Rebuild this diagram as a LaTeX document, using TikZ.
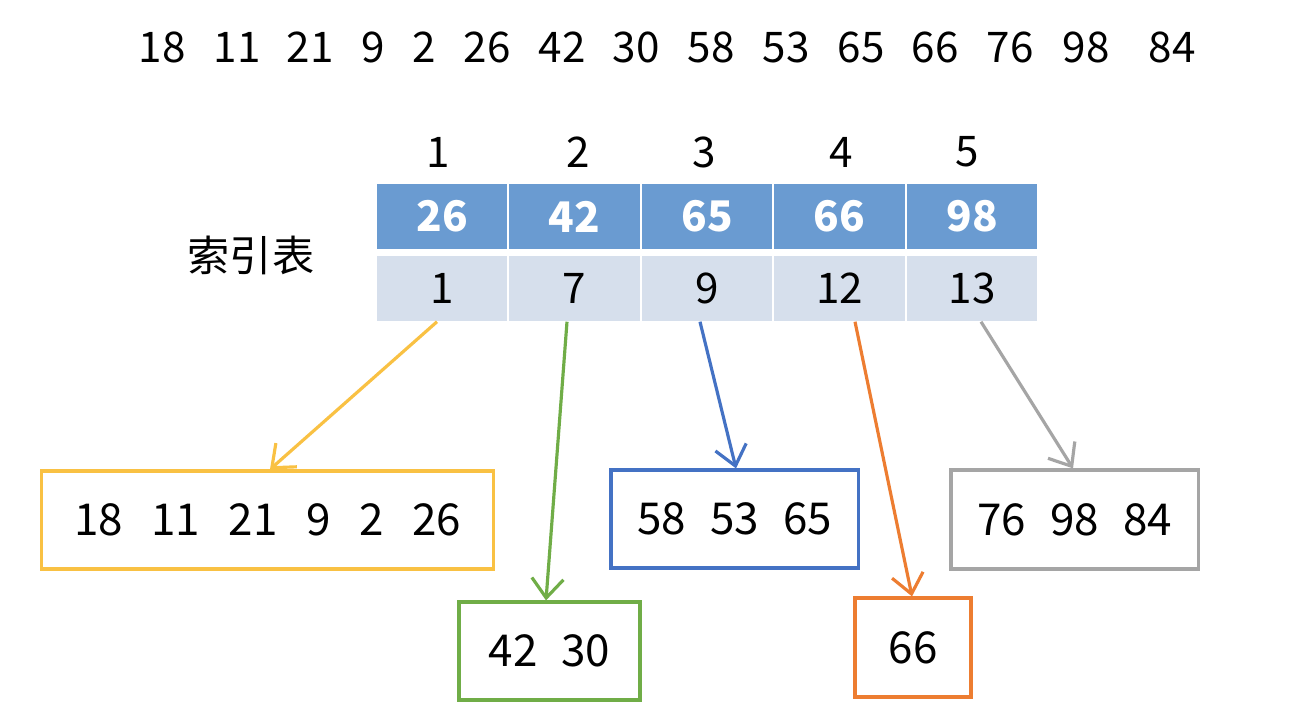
\documentclass[tikz,border=0pt]{standalone}
\usepackage{fontspec}
\setmainfont{Noto Sans CJK SC}
\usetikzlibrary{arrows.meta}

\definecolor{headblue}{HTML}{6A9BD1}
\definecolor{cellblue}{HTML}{D6DFEC}
\definecolor{yel}{HTML}{F9C143}
\definecolor{grn}{HTML}{70AD47}
\definecolor{blu}{HTML}{4472C4}
\definecolor{org}{HTML}{ED7D31}
\definecolor{gry}{HTML}{A5A5A5}

\newcommand{\gp}{\hspace{.55em}}

\begin{document}
\begin{tikzpicture}
  [x=0.01cm,y=-0.01cm,
   every node/.style={font=\fontsize{12}{14}\selectfont,inner sep=0pt},
   keycell/.style={fill=headblue,text=white,font=\bfseries\fontsize{12}{14}\selectfont,minimum width=1.30cm,minimum height=0.65cm},
   poscell/.style={fill=cellblue,minimum width=1.30cm,minimum height=0.65cm},
   blk/.style={draw=#1,line width=0.9pt,fill=white,font=\fontsize{12.5}{14}\selectfont},
   link/.style={draw=#1,line width=0.9pt,-{Straight Barb[length=5.5pt,width=9pt]}}]
  \useasboundingbox[fill=white] (0,0) rectangle (1294,720);

  % the whole list
  \foreach \x/\v in {162/18,237/11,310/21,373/9,424/2,487/26,562/42,636/30,711/58,786/53,861/65,935/66,1010/76,1086/98,1172/84}
    \node (t\v) at (\x,47) {\v};

  % block numbers
  \foreach \x/\i in {438/1,578/2,704/3,841/4,967/5}
    \node (i\i) at (\x,152) {\i};

  % index table
  \node (lbl) at (251,255) {索引表};
  \foreach \x/\i/\k/\p in {442/1/26/1,574.5/2/42/7,707/3/65/9,839.5/4/66/12,972/5/98/13}{
    \node[keycell] (k\i) at (\x,216.5) {\k};
    \node[poscell] (p\i) at (\x,288.5) {\p};
  }

  % blocks
  \node[blk=yel,minimum width=4.51cm,minimum height=0.98cm] (b1) at (267.5,520) {18\hspace{.65em}11\hspace{.65em}21\hspace{.65em}9\hspace{.65em}2\hspace{.65em}26\hspace{.35em}};
  \node[blk=grn,minimum width=1.81cm,minimum height=0.98cm] (b2) at (549.5,651) {42\gp30};
  \node[blk=blu,minimum width=2.47cm,minimum height=0.98cm] (b3) at (734.5,519) {58\gp53\gp65};
  \node[blk=org,minimum width=1.16cm,minimum height=0.99cm] (b4) at (913,647.5) {66};
  \node[blk=gry,minimum width=2.47cm,minimum height=0.99cm] (b5) at (1074.5,519.5) {76\gp98\gp84};

  \draw[link=yel] ([xshift=-0.05cm]p1.south) -- ([xshift=0.025cm]b1.north);
  \draw[link=grn] ([xshift=-0.075cm]p2.south) -- ([xshift=-0.035cm]b2.north);
  \draw[link=blu] ([xshift=-0.07cm]p3.south) -- ([xshift=0.015cm]b3.north);
  \draw[link=org] ([xshift=0.155cm]p4.south) -- ([xshift=-0.01cm]b4.north);
  \draw[link=gry] ([xshift=0.09cm]p5.south) -- ([xshift=-0.015cm]b5.north);

\end{tikzpicture}
\end{document}
